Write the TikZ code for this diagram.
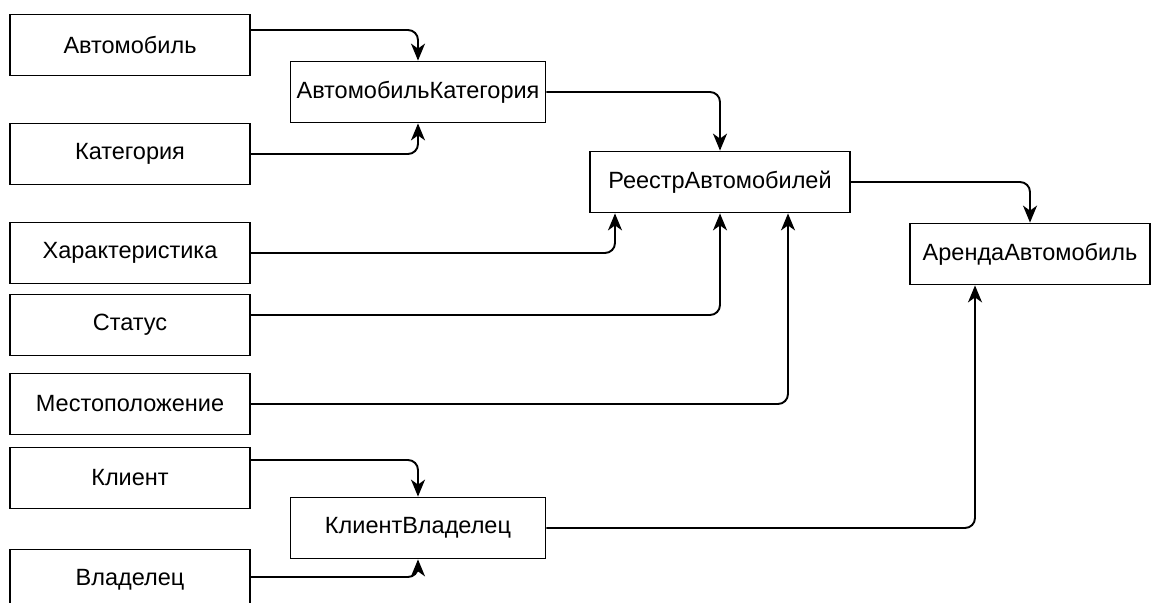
\documentclass[tikz,border=0pt]{standalone}
\usepackage{fontspec}
\setmainfont{Liberation Sans}
\usetikzlibrary{arrows.meta}
\begin{document}
\begin{tikzpicture}[x=1pt,y=-1pt,
  entity/.style={draw,line width=1.8pt,minimum height=61pt,inner sep=0pt,font=\fontsize{23.5}{26}\selectfont},
  wide/.style={entity,minimum width=240pt},
  mid/.style={entity,minimum width=255pt},
  link/.style={line width=1.9pt,rounded corners=10pt,-{Stealth[length=17pt,width=14pt,inset=5pt]}}]
  \useasboundingbox (0,0) rectangle (1161,602);
  \clip (0,0) rectangle (1161,602);
  % source tables on the left
  \node[wide] (avto) at (130,45) {Автомобиль};
  \node[wide] (kat) at (130,154) {Категория};
  \node[wide] (har) at (130,253) {Характеристика};
  \node[wide] (stat) at (130,325) {Статус};
  \node[wide] (mest) at (130,404) {Местоположение};
  \node[wide] (klient) at (130,478) {Клиент};
  \node[wide] (vlad) at (130,580) {Владелец};
  % link tables
  \node[mid] (avtokat) at (418,92) {АвтомобильКатегория};
  \node[mid,minimum width=260pt] (reestr) at (720,182) {РеестрАвтомобилей};
  \node[mid] (kv) at (418,528) {КлиентВладелец};
  \node[wide] (arenda) at (1030,254) {АрендаАвтомобиль};
  % connectors
  \draw[link] (avto.east |- 0,30) -| (avtokat.north);
  \draw[link] (kat.east) -| (avtokat.south);
  \draw[link] (avtokat.east) -| (reestr.north);
  \draw[link] (reestr.east) -| (arenda.north);
  \draw[link] (har.east) -| (reestr.south -| 615,0);
  \draw[link] (stat.east |- 0,315) -| (reestr.south);
  \draw[link] (mest.east) -| (reestr.south -| 788,0);
  \draw[link] (klient.east |- 0,460) -| (kv.north);
  \draw[link] (vlad.east |- 0,577) -| (kv.south);
  \draw[link] (kv.east) -| (arenda.south -| 975,0);
\end{tikzpicture}
\end{document}
